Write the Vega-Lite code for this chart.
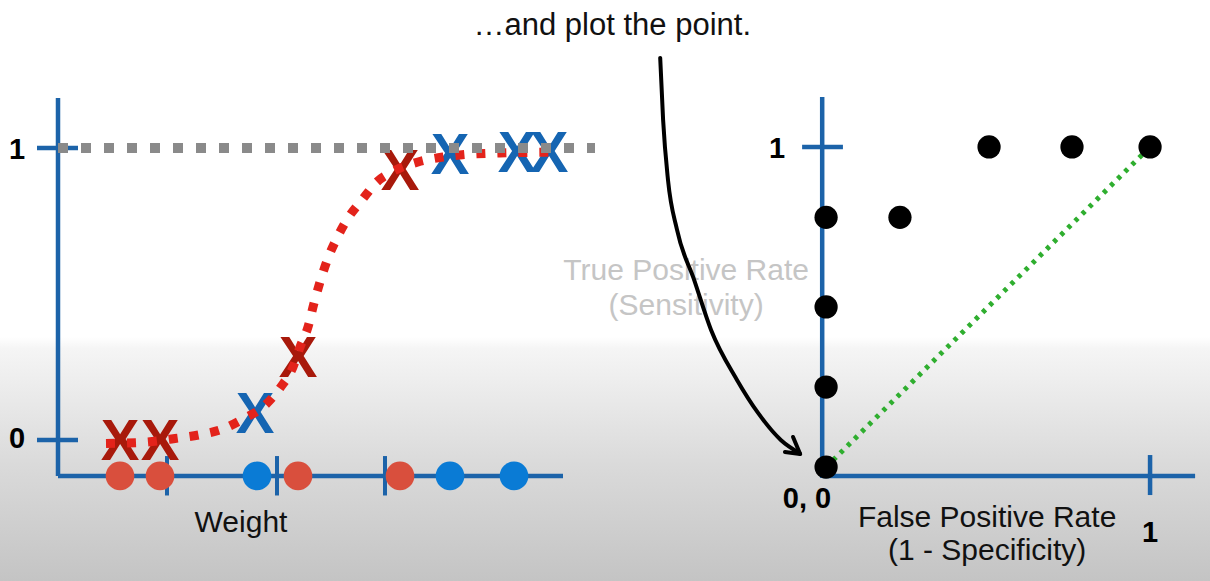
{
  "$schema": "https://vega.github.io/schema/vega-lite/v6.json",
  "padding": 0,
  "spacing": 0,
  "bounds": "flush",
  "config": {"view": {"stroke": null}, "font": "Liberation Sans"},
  "datasets": {
    "curve": [
      {"w": 4.8, "p": -0.012}, {"w": 8.5, "p": -0.008}, {"w": 11.7, "p": 0.005}, {"w": 14.2, "p": 0.018},
      {"w": 16.5, "p": 0.038}, {"w": 18.5, "p": 0.072}, {"w": 20.5, "p": 0.113}, {"w": 22.2, "p": 0.178},
      {"w": 23.5, "p": 0.25}, {"w": 24.2, "p": 0.318}, {"w": 25.0, "p": 0.387}, {"w": 25.6, "p": 0.469},
      {"w": 26.2, "p": 0.541}, {"w": 27.0, "p": 0.623}, {"w": 27.9, "p": 0.692}, {"w": 29.0, "p": 0.76},
      {"w": 30.4, "p": 0.822}, {"w": 31.9, "p": 0.884}, {"w": 33.4, "p": 0.918}, {"w": 36.0, "p": 0.952},
      {"w": 38.5, "p": 0.969}, {"w": 40.2, "p": 0.976}, {"w": 44.2, "p": 0.983}, {"w": 50.1, "p": 0.986}
    ],
    "xs": [
      {"w": 6.2, "p": 0.0, "cls": "not obese"}, {"w": 10.2, "p": 0.0, "cls": "not obese"},
      {"w": 19.7, "p": 0.092, "cls": "obese"}, {"w": 24.0, "p": 0.284, "cls": "not obese"},
      {"w": 34.2, "p": 0.925, "cls": "not obese"}, {"w": 39.2, "p": 0.979, "cls": "obese"},
      {"w": 45.9, "p": 0.986, "cls": "obese"}, {"w": 49.1, "p": 0.986, "cls": "obese"}
    ],
    "circles": [
      {"w": 6.2, "cls": "not obese"}, {"w": 10.2, "cls": "not obese"}, {"w": 19.9, "cls": "obese"},
      {"w": 24.0, "cls": "not obese"}, {"w": 34.2, "cls": "not obese"}, {"w": 39.2, "cls": "obese"},
      {"w": 45.6, "cls": "obese"}
    ],
    "wticks": [{"w": 10.9}, {"w": 21.9}, {"w": 32.7}],
    "pticks": [{"p": 0}, {"p": 1}],
    "roc": [
      {"fpr": 0, "tpr": 0}, {"fpr": 0, "tpr": 0.25}, {"fpr": 0, "tpr": 0.5}, {"fpr": 0, "tpr": 0.78},
      {"fpr": 0.228, "tpr": 0.78}, {"fpr": 0.503, "tpr": 1}, {"fpr": 0.759, "tpr": 1}, {"fpr": 1, "tpr": 1}
    ],
    "arrow": [
      {"fpr": -0.512, "tpr": 1.278}, {"fpr": -0.503, "tpr": 1.084}, {"fpr": -0.488, "tpr": 0.897},
      {"fpr": -0.46, "tpr": 0.741}, {"fpr": -0.407, "tpr": 0.584}, {"fpr": -0.355, "tpr": 0.428},
      {"fpr": -0.275, "tpr": 0.272}, {"fpr": -0.21, "tpr": 0.169}, {"fpr": -0.139, "tpr": 0.084},
      {"fpr": -0.083, "tpr": 0.044}
    ],
    "one": [{}]
  },
  "hconcat": [
    {
      "width": 598,
      "height": 581,
      "resolve": {"scale": {"color": "independent"}},
      "layer": [
        {
          "data": {"name": "one"},
          "mark": {"type": "rect", "color": {"gradient": "linear", "x1": 0, "y1": 0, "x2": 0, "y2": 1, "stops": [
            {"offset": 0, "color": "#ffffff"}, {"offset": 0.58, "color": "#ffffff"}, {"offset": 0.6, "color": "#f5f5f5"},
            {"offset": 0.8, "color": "#dadada"}, {"offset": 1, "color": "#c4c4c4"}]}},
          "encoding": {
            "x": {"datum": -5.8, "type": "quantitative", "scale": {"domain": [-5.8, 54], "nice": false, "zero": false}, "axis": null},
            "x2": {"datum": 54},
            "y": {"datum": 1.5068, "type": "quantitative", "scale": {"domain": [-0.4829, 1.5068], "nice": false, "zero": false}, "axis": null},
            "y2": {"datum": -0.4829}
          }
        },
        {
          "data": {"name": "one"},
          "mark": {"type": "rule", "color": "#1c63a9", "strokeWidth": 4.5},
          "encoding": {
            "x": {"datum": 0, "type": "quantitative", "axis": null},
            "y": {"datum": 1.171, "type": "quantitative", "axis": null},
            "y2": {"datum": -0.123}
          }
        },
        {
          "data": {"name": "one"},
          "mark": {"type": "rule", "color": "#1c63a9", "strokeWidth": 4.5},
          "encoding": {
            "x": {"datum": 0, "type": "quantitative", "axis": null},
            "x2": {"datum": 50.5},
            "y": {"datum": -0.123, "type": "quantitative", "axis": null}
          }
        },
        {
          "data": {"name": "pticks"},
          "mark": {"type": "rule", "color": "#1c63a9", "strokeWidth": 4.5},
          "encoding": {
            "x": {"datum": -2.1, "type": "quantitative", "axis": null},
            "x2": {"datum": 2.0},
            "y": {"field": "p", "type": "quantitative", "axis": null}
          }
        },
        {
          "data": {"name": "wticks"},
          "mark": {"type": "rule", "color": "#1c63a9", "strokeWidth": 4},
          "encoding": {
            "x": {"field": "w", "type": "quantitative", "axis": null},
            "y": {"datum": -0.055, "type": "quantitative", "axis": null},
            "y2": {"datum": -0.19}
          }
        },
        {
          "data": {"name": "xs"},
          "mark": {"type": "text", "text": "X", "fontSize": 58, "fontWeight": "bold", "baseline": "middle", "align": "center", "dy": 3, "font": "Liberation Sans"},
          "encoding": {
            "x": {"field": "w", "type": "quantitative", "axis": null},
            "y": {"field": "p", "type": "quantitative", "axis": null},
            "color": {"field": "cls", "type": "nominal", "scale": {"domain": ["not obese", "obese"], "range": ["#a8190b", "#1565b2"]}, "legend": null}
          }
        },
        {
          "data": {"name": "curve"},
          "mark": {"type": "line", "color": "#e3231b", "strokeWidth": 9, "strokeDash": [9, 12], "interpolate": "monotone"},
          "encoding": {
            "x": {"field": "w", "type": "quantitative", "axis": null},
            "y": {"field": "p", "type": "quantitative", "axis": null}
          }
        },
        {
          "data": {"name": "circles"},
          "mark": {"type": "circle", "size": 820, "opacity": 1},
          "encoding": {
            "x": {"field": "w", "type": "quantitative", "axis": null},
            "y": {"datum": -0.123, "type": "quantitative", "axis": null},
            "color": {"field": "cls", "type": "nominal", "scale": {"domain": ["not obese", "obese"], "range": ["#d94f3d", "#0a7bd5"]}, "legend": null}
          }
        },
        {
          "data": {"name": "one"},
          "mark": {"type": "rule", "color": "#8a8a8a", "strokeWidth": 10, "strokeDash": [10, 13]},
          "encoding": {
            "x": {"datum": 0, "type": "quantitative", "axis": null},
            "x2": {"datum": 53.7},
            "y": {"datum": 1, "type": "quantitative", "axis": null}
          }
        },
        {
          "data": {"name": "one"},
          "mark": {"type": "text", "text": "1", "fontSize": 29, "fontWeight": "bold", "baseline": "middle", "align": "center", "dy": 2, "color": "#000000"},
          "encoding": {
            "x": {"datum": -4.1, "type": "quantitative", "axis": null},
            "y": {"datum": 1, "type": "quantitative", "axis": null}
          }
        },
        {
          "data": {"name": "one"},
          "mark": {"type": "text", "text": "0", "fontSize": 29, "fontWeight": "bold", "baseline": "middle", "align": "center", "dy": 2, "color": "#000000"},
          "encoding": {
            "x": {"datum": -4.1, "type": "quantitative", "axis": null},
            "y": {"datum": 0.01, "type": "quantitative", "axis": null}
          }
        },
        {
          "data": {"name": "one"},
          "mark": {"type": "text", "text": "Weight", "fontSize": 30, "baseline": "alphabetic", "align": "center", "color": "#111111"},
          "encoding": {
            "x": {"datum": 18.3, "type": "quantitative", "axis": null},
            "y": {"datum": -0.315, "type": "quantitative", "axis": null}
          }
        }
      ]
    },
    {
      "width": 612,
      "height": 581,
      "layer": [
        {
          "data": {"name": "one"},
          "mark": {"type": "rect", "color": {"gradient": "linear", "x1": 0, "y1": 0, "x2": 0, "y2": 1, "stops": [
            {"offset": 0, "color": "#ffffff"}, {"offset": 0.58, "color": "#ffffff"}, {"offset": 0.6, "color": "#f5f5f5"},
            {"offset": 0.8, "color": "#dadada"}, {"offset": 1, "color": "#c4c4c4"}]}},
          "encoding": {
            "x": {"datum": -0.704, "type": "quantitative", "scale": {"domain": [-0.704, 1.185], "nice": false, "zero": false}, "axis": null},
            "x2": {"datum": 1.185},
            "y": {"datum": 1.459, "type": "quantitative", "scale": {"domain": [-0.356, 1.459], "nice": false, "zero": false}, "axis": null},
            "y2": {"datum": -0.356}
          }
        },
        {
          "data": {"name": "one"},
          "mark": {"type": "rule", "color": "#1c63a9", "strokeWidth": 4.5},
          "encoding": {
            "x": {"datum": -0.012, "type": "quantitative", "axis": null},
            "y": {"datum": 1.156, "type": "quantitative", "axis": null},
            "y2": {"datum": -0.034}
          }
        },
        {
          "data": {"name": "one"},
          "mark": {"type": "rule", "color": "#1c63a9", "strokeWidth": 4.5},
          "encoding": {
            "x": {"datum": -0.012, "type": "quantitative", "axis": null},
            "x2": {"datum": 1.139},
            "y": {"datum": -0.028, "type": "quantitative", "axis": null}
          }
        },
        {
          "data": {"name": "one"},
          "mark": {"type": "rule", "color": "#1c63a9", "strokeWidth": 4.5},
          "encoding": {
            "x": {"datum": -0.074, "type": "quantitative", "axis": null},
            "x2": {"datum": 0.052},
            "y": {"datum": 1, "type": "quantitative", "axis": null}
          }
        },
        {
          "data": {"name": "one"},
          "mark": {"type": "rule", "color": "#1c63a9", "strokeWidth": 4.5},
          "encoding": {
            "x": {"datum": 1, "type": "quantitative", "axis": null},
            "y": {"datum": 0.0375, "type": "quantitative", "axis": null},
            "y2": {"datum": -0.0875}
          }
        },
        {
          "data": {"name": "one"},
          "mark": {"type": "rule", "color": "#2fae2f", "strokeWidth": 5, "strokeDash": [4, 6]},
          "encoding": {
            "x": {"datum": 0, "type": "quantitative", "axis": null},
            "y": {"datum": 0, "type": "quantitative", "axis": null},
            "x2": {"datum": 1},
            "y2": {"datum": 1}
          }
        },
        {
          "data": {"name": "one"},
          "mark": {"type": "text", "text": "True Positive Rate", "fontSize": 30, "baseline": "alphabetic", "align": "center", "color": "#c5c5c5"},
          "encoding": {
            "x": {"datum": -0.432, "type": "quantitative", "axis": null},
            "y": {"datum": 0.584, "type": "quantitative", "axis": null}
          }
        },
        {
          "data": {"name": "one"},
          "mark": {"type": "text", "text": "(Sensitivity)", "fontSize": 30, "baseline": "alphabetic", "align": "center", "color": "#c5c5c5"},
          "encoding": {
            "x": {"datum": -0.432, "type": "quantitative", "axis": null},
            "y": {"datum": 0.475, "type": "quantitative", "axis": null}
          }
        },
        {
          "data": {"name": "arrow"},
          "mark": {"type": "line", "color": "#000000", "strokeWidth": 4, "interpolate": "monotone", "strokeCap": "round"},
          "encoding": {
            "x": {"field": "fpr", "type": "quantitative", "axis": null},
            "y": {"field": "tpr", "type": "quantitative", "axis": null}
          }
        },
        {
          "data": {"name": "one"},
          "mark": {"type": "rule", "color": "#000000", "strokeWidth": 4, "strokeCap": "round"},
          "encoding": {
            "x": {"datum": -0.08, "type": "quantitative", "axis": null},
            "y": {"datum": 0.041, "type": "quantitative", "axis": null},
            "x2": {"datum": -0.127},
            "y2": {"datum": 0.047}
          }
        },
        {
          "data": {"name": "one"},
          "mark": {"type": "rule", "color": "#000000", "strokeWidth": 4, "strokeCap": "round"},
          "encoding": {
            "x": {"datum": -0.08, "type": "quantitative", "axis": null},
            "y": {"datum": 0.041, "type": "quantitative", "axis": null},
            "x2": {"datum": -0.102},
            "y2": {"datum": 0.094}
          }
        },
        {
          "data": {"name": "roc"},
          "mark": {"type": "circle", "size": 540, "opacity": 1, "color": "#000000"},
          "encoding": {
            "x": {"field": "fpr", "type": "quantitative", "axis": null},
            "y": {"field": "tpr", "type": "quantitative", "axis": null}
          }
        },
        {
          "data": {"name": "one"},
          "mark": {"type": "text", "text": "…and plot the point.", "fontSize": 31, "baseline": "alphabetic", "align": "center", "color": "#111111"},
          "encoding": {
            "x": {"datum": -0.66, "type": "quantitative", "axis": null},
            "y": {"datum": 1.35, "type": "quantitative", "axis": null}
          }
        },
        {
          "data": {"name": "one"},
          "mark": {"type": "text", "text": "1", "fontSize": 29, "fontWeight": "bold", "baseline": "middle", "align": "center", "dy": 2, "color": "#000000"},
          "encoding": {
            "x": {"datum": -0.151, "type": "quantitative", "axis": null},
            "y": {"datum": 1, "type": "quantitative", "axis": null}
          }
        },
        {
          "data": {"name": "one"},
          "mark": {"type": "text", "text": "0, 0", "fontSize": 29, "fontWeight": "bold", "baseline": "middle", "align": "center", "dy": 2, "color": "#000000"},
          "encoding": {
            "x": {"datum": -0.059, "type": "quantitative", "axis": null},
            "y": {"datum": -0.094, "type": "quantitative", "axis": null}
          }
        },
        {
          "data": {"name": "one"},
          "mark": {"type": "text", "text": "1", "fontSize": 29, "fontWeight": "bold", "baseline": "middle", "align": "center", "dy": 2, "color": "#000000"},
          "encoding": {
            "x": {"datum": 1, "type": "quantitative", "axis": null},
            "y": {"datum": -0.2, "type": "quantitative", "axis": null}
          }
        },
        {
          "data": {"name": "one"},
          "mark": {"type": "text", "text": "False Positive Rate", "fontSize": 30, "baseline": "alphabetic", "align": "center", "color": "#111111"},
          "encoding": {
            "x": {"datum": 0.497, "type": "quantitative", "axis": null},
            "y": {"datum": -0.1875, "type": "quantitative", "axis": null}
          }
        },
        {
          "data": {"name": "one"},
          "mark": {"type": "text", "text": "(1 - Specificity)", "fontSize": 30, "baseline": "alphabetic", "align": "center", "color": "#111111"},
          "encoding": {
            "x": {"datum": 0.497, "type": "quantitative", "axis": null},
            "y": {"datum": -0.291, "type": "quantitative", "axis": null}
          }
        }
      ]
    }
  ]
}
